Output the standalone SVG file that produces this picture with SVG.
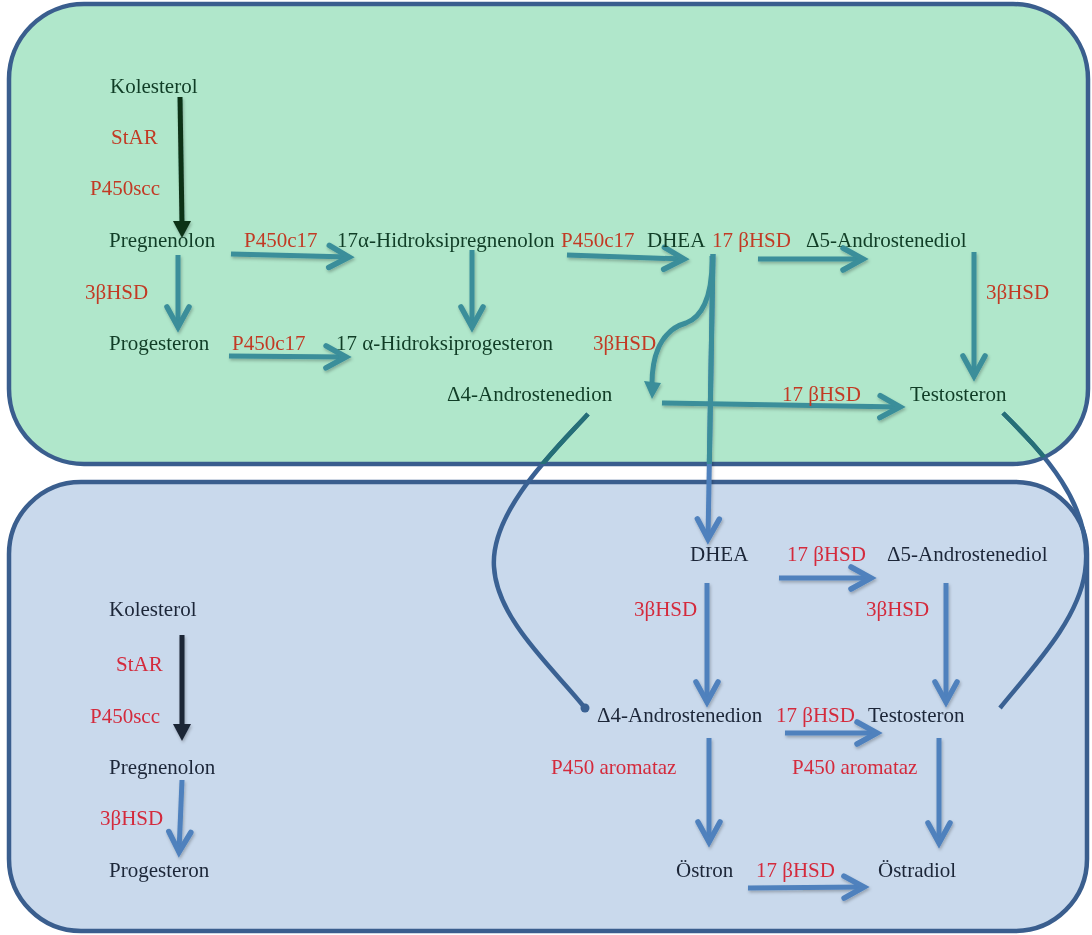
<svg xmlns="http://www.w3.org/2000/svg" width="1092" height="935" viewBox="0 0 1092 935">
<defs>
<style>
text{font-family:"Liberation Serif","Times New Roman",serif;font-size:21px}
.tn{fill:#103D26}
.tr{fill:#C23A24}
.bn{fill:#1C2638}
.br{fill:#D42A3C}
.box{stroke:#3A5E8E;stroke-width:4.5}
.ta{fill:none;stroke:#3A8E9A;stroke-width:5;marker-end:url(#mt)}
.ba{fill:none;stroke:#4F81BD;stroke-width:5;marker-end:url(#mb)}
.conn{fill:none;stroke:#3A6193;stroke-width:4.5}
.connT{fill:none;stroke:#256F77;stroke-width:4.5}
</style>
<marker id="mt" markerUnits="userSpaceOnUse" orient="auto" markerWidth="40" markerHeight="40" refX="0" refY="0" viewBox="-25 -20 40 40" overflow="visible">
<path d="M-20,-11 L0,0 L-20,11" fill="none" stroke="#3A8E9A" stroke-width="5.5" stroke-linejoin="miter" stroke-linecap="round"/>
</marker>
<marker id="mb" markerUnits="userSpaceOnUse" orient="auto" markerWidth="40" markerHeight="40" refX="0" refY="0" viewBox="-25 -20 40 40" overflow="visible">
<path d="M-20,-11 L0,0 L-20,11" fill="none" stroke="#4F81BD" stroke-width="5.5" stroke-linejoin="miter" stroke-linecap="round"/>
</marker>
<clipPath id="topclip"><rect x="9" y="4" width="1079" height="460" rx="75"/></clipPath>
<filter id="sh" x="-20%" y="-20%" width="140%" height="140%">
<feDropShadow dx="1" dy="2" stdDeviation="1.5" flood-color="#000" flood-opacity="0.25"/>
</filter>
</defs>

<g id="box-top"><rect class="box" x="9" y="4" width="1079" height="460" rx="75" fill="#B0E7CB"/></g>
<g id="box-bottom"><rect class="box" x="9" y="482" width="1078" height="449" rx="72" fill="#C9D9EC"/></g>

<g id="connectors">
<path class="conn" d="M588,414 C560,445 490,510 494,567 C497,620 555,670 585,708"/>
<path class="connT" clip-path="url(#topclip)" d="M588,414 C560,445 490,510 494,567 C497,620 555,670 585,708"/>
<circle cx="585" cy="708" r="4.5" fill="#3A6193"/>
<path class="conn" d="M1003,413 C1040,450 1095,505 1085,572 C1078,620 1035,665 1000,708"/>
<path class="connT" clip-path="url(#topclip)" d="M1003,413 C1040,450 1095,505 1085,572 C1078,620 1035,665 1000,708"/>

<g filter="url(#sh)">
<line x1="180" y1="97" x2="182" y2="224" stroke="#0B3018" stroke-width="5"/>
<polygon points="173,221 191,221 182,238" fill="#0B3018"/>
<line class="ta" x1="178" y1="255" x2="178" y2="327"/>
<line class="ta" x1="231" y1="254" x2="349" y2="257"/>
<line class="ta" x1="229" y1="356" x2="346" y2="357"/>
<line class="ta" x1="472" y1="250" x2="472" y2="327"/>
<line class="ta" x1="567" y1="255" x2="684" y2="259"/>
<line class="ta" x1="758" y1="259" x2="863" y2="259"/>
<line class="ta" x1="974" y1="252" x2="974" y2="376"/>
<line class="ta" x1="662" y1="403" x2="900" y2="407"/>
<path d="M712,256 C713,300 700,318 686,323 C668,328 652,345 652,384" fill="none" stroke="#3A8E9A" stroke-width="5"/>
<polygon points="644,381 661,383 652,399" fill="#3A8E9A"/>
<line class="ba" x1="713" y1="254" x2="708" y2="539"/>
<line clip-path="url(#topclip)" x1="713" y1="254" x2="708" y2="539" stroke="#3A8E9A" stroke-width="5"/>

<line x1="182" y1="635" x2="182" y2="727" stroke="#1A2535" stroke-width="5"/>
<polygon points="173,724 191,724 182,741" fill="#1A2535"/>
<line class="ba" x1="182" y1="780" x2="179" y2="852"/>
<line class="ba" x1="779" y1="578" x2="871" y2="578"/>
<line class="ba" x1="707" y1="583" x2="707" y2="702"/>
<line class="ba" x1="946" y1="583" x2="946" y2="702"/>
<line class="ba" x1="785" y1="733" x2="877" y2="733"/>
<line class="ba" x1="709" y1="738" x2="709" y2="842"/>
<line class="ba" x1="939" y1="738" x2="939" y2="843"/>
<line class="ba" x1="748" y1="888" x2="864" y2="887"/>
</g>
</g>

<g id="top-texts">
<g id="n-kolesterol-t"><text class="tn" x="110" y="93">Kolesterol</text></g>
<text class="tr" x="111" y="144">StAR</text>
<text class="tr" x="90" y="195">P450scc</text>
<g id="n-pregnenolon-t"><text class="tn" x="109" y="247">Pregnenolon</text></g>
<text class="tr" x="244" y="247">P450c17</text>
<g id="n-17ohpreg-t"><text class="tn" x="337" y="247">17α-Hidroksipregnenolon</text></g>
<text class="tr" x="561" y="247">P450c17</text>
<g id="n-dhea-t"><text class="tn" x="647" y="247">DHEA</text></g>
<text class="tr" x="712" y="247">17 βHSD</text>
<g id="n-a5-t"><text class="tn" x="806" y="247">Δ5-Androstenediol</text></g>
<text class="tr" x="85" y="299">3βHSD</text>
<text class="tr" x="986" y="299">3βHSD</text>
<g id="n-progesteron-t"><text class="tn" x="109" y="350">Progesteron</text></g>
<text class="tr" x="232" y="350">P450c17</text>
<g id="n-17ohprog-t"><text class="tn" x="336" y="350">17 α-Hidroksiprogesteron</text></g>
<text class="tr" x="593" y="350">3βHSD</text>
<g id="n-a4-t"><text class="tn" x="447" y="401">Δ4-Androstenedion</text></g>
<text class="tr" x="782" y="401">17 βHSD</text>
<g id="n-testo-t"><text class="tn" x="910" y="401">Testosteron</text></g>
</g>

<g id="bottom-texts">
<g id="n-dhea-b"><text class="bn" x="690" y="561">DHEA</text></g>
<text class="br" x="787" y="561">17 βHSD</text>
<g id="n-a5-b"><text class="bn" x="887" y="561">Δ5-Androstenediol</text></g>
<g id="n-kolesterol-b"><text class="bn" x="109" y="616">Kolesterol</text></g>
<text class="br" x="634" y="616">3βHSD</text>
<text class="br" x="866" y="616">3βHSD</text>
<text class="br" x="116" y="671">StAR</text>
<text class="br" x="90" y="723">P450scc</text>
<g id="n-a4-b"><text class="bn" x="597" y="722">Δ4-Androstenedion</text></g>
<text class="br" x="776" y="722">17 βHSD</text>
<g id="n-testo-b"><text class="bn" x="868" y="722">Testosteron</text></g>
<g id="n-pregnenolon-b"><text class="bn" x="109" y="774">Pregnenolon</text></g>
<text class="br" x="551" y="774">P450 aromataz</text>
<text class="br" x="792" y="774">P450 aromataz</text>
<text class="br" x="100" y="825">3βHSD</text>
<g id="n-progesteron-b"><text class="bn" x="109" y="877">Progesteron</text></g>
<g id="n-ostron"><text class="bn" x="676" y="877">Östron</text></g>
<text class="br" x="756" y="877">17 βHSD</text>
<g id="n-ostradiol"><text class="bn" x="878" y="877">Östradiol</text></g>
</g>
</svg>
